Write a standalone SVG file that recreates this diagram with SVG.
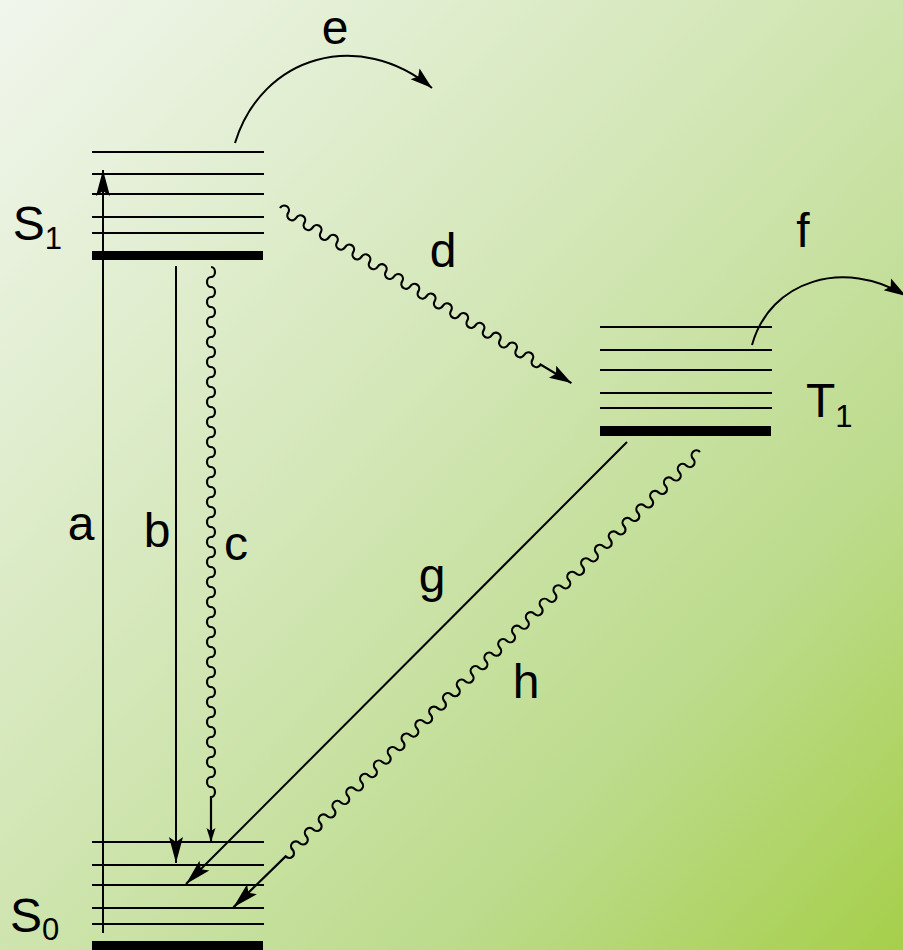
<svg xmlns="http://www.w3.org/2000/svg" width="903" height="950" viewBox="0 0 903 950">
<defs>
<linearGradient id="bg" x1="0" y1="0" x2="1" y2="1">
<stop offset="0" stop-color="#f1f6ed"/>
<stop offset="0.45" stop-color="#d2e6b5"/>
<stop offset="0.75" stop-color="#bcdb8b"/>
<stop offset="1" stop-color="#a6cf4a"/>
</linearGradient>
<marker id="ah" viewBox="-28 -8 30 16" markerWidth="30" markerHeight="16" refX="0" refY="0" orient="auto" markerUnits="userSpaceOnUse"><path d="M0,0 L-26,-7 L-21,0 L-26,7 Z" fill="#000"/></marker>
<marker id="ahm" viewBox="-24 -8 26 16" markerWidth="26" markerHeight="16" refX="0" refY="0" orient="auto" markerUnits="userSpaceOnUse"><path d="M0,0 L-22,-7 L-18,0 L-22,7 Z" fill="#000"/></marker>
<marker id="ahs" viewBox="-16 -6 18 12" markerWidth="18" markerHeight="12" refX="0" refY="0" orient="auto" markerUnits="userSpaceOnUse"><path d="M0,0 L-14,-4.5 L-11,0 L-14,4.5 Z" fill="#000"/></marker>
</defs>
<style>
.lv{stroke:#000;stroke-width:2;fill:none}
.gb{fill:#000}
.cn{stroke:#000;stroke-width:2;fill:none}
.wv{stroke:#000;stroke-width:2.2;fill:none}
.t{font-family:"Liberation Sans",Arial,sans-serif;font-size:48px;fill:#000}
.s{font-size:31px}
.m{text-anchor:middle}
</style>
<rect x="0" y="0" width="903" height="950" fill="url(#bg)"/>

<g id="S1">
<path class="lv" d="M92,152H264M92,174H264M92,194H264M92,217H264M92,233H264"/>
<rect class="gb" x="92" y="251" width="171" height="9"/>
<text class="t" x="12.8" y="240">S<tspan class="s" dy="9">1</tspan></text>
</g>

<g id="S0">
<path class="lv" d="M92,842H264M92,865H264M92,885H264M92,908H264M92,924H264"/>
<rect class="gb" x="92" y="941" width="171" height="9"/>
<text class="t" x="10" y="932">S<tspan class="s" dy="8">0</tspan></text>
</g>

<g id="T1">
<path class="lv" d="M600,327H772M600,350H772M600,370H772M600,393H772M600,408H772"/>
<rect class="gb" x="600" y="426" width="171" height="10"/>
<text class="t" x="806" y="417">T<tspan class="s" dy="10">1</tspan></text>
</g>

<g id="connectors">
<path id="a" class="cn" d="M103,933V170" marker-end="url(#ah)"/>
<path id="b" class="cn" d="M176,266V863" marker-end="url(#ah)"/>
<path id="c" class="wv" transform="translate(211,267) rotate(90)" marker-end="url(#ahs)" d="M0,0a5,4 0 0 1 10,0a5,4 0 0 0 10,0a5,4 0 0 1 10,0a5,4 0 0 0 10,0a5,4 0 0 1 10,0a5,4 0 0 0 10,0a5,4 0 0 1 10,0a5,4 0 0 0 10,0a5,4 0 0 1 10,0a5,4 0 0 0 10,0a5,4 0 0 1 10,0a5,4 0 0 0 10,0a5,4 0 0 1 10,0a5,4 0 0 0 10,0a5,4 0 0 1 10,0a5,4 0 0 0 10,0a5,4 0 0 1 10,0a5,4 0 0 0 10,0a5,4 0 0 1 10,0a5,4 0 0 0 10,0a5,4 0 0 1 10,0a5,4 0 0 0 10,0a5,4 0 0 1 10,0a5,4 0 0 0 10,0a5,4 0 0 1 10,0a5,4 0 0 0 10,0a5,4 0 0 1 10,0a5,4 0 0 0 10,0a5,4 0 0 1 10,0a5,4 0 0 0 10,0a5,4 0 0 1 10,0a5,4 0 0 0 10,0a5,4 0 0 1 10,0a5,4 0 0 0 10,0a5,4 0 0 1 10,0a5,4 0 0 0 10,0a5,4 0 0 1 10,0a5,4 0 0 0 10,0a5,4 0 0 1 10,0a5,4 0 0 0 10,0a5,4 0 0 1 10,0a5,4 0 0 0 10,0a5,4 0 0 1 10,0a5,4 0 0 0 10,0a5,4 0 0 1 10,0a5,4 0 0 0 10,0a5,4 0 0 1 10,0a5,4 0 0 0 10,0a5,4 0 0 1 10,0a5,4 0 0 0 10,0a5,4 0 0 1 10,0a5,4 0 0 0 10,0a5,4 0 0 1 10,0L575,0"/>
<path id="d" class="wv" transform="translate(280,208) rotate(31)" marker-end="url(#ahm)" d="M0,0a4.75,5 0 0 1 9.5,0a4.75,5 0 0 0 9.5,0a4.75,5 0 0 1 9.5,0a4.75,5 0 0 0 9.5,0a4.75,5 0 0 1 9.5,0a4.75,5 0 0 0 9.5,0a4.75,5 0 0 1 9.5,0a4.75,5 0 0 0 9.5,0a4.75,5 0 0 1 9.5,0a4.75,5 0 0 0 9.5,0a4.75,5 0 0 1 9.5,0a4.75,5 0 0 0 9.5,0a4.75,5 0 0 1 9.5,0a4.75,5 0 0 0 9.5,0a4.75,5 0 0 1 9.5,0a4.75,5 0 0 0 9.5,0a4.75,5 0 0 1 9.5,0a4.75,5 0 0 0 9.5,0a4.75,5 0 0 1 9.5,0a4.75,5 0 0 0 9.5,0a4.75,5 0 0 1 9.5,0a4.75,5 0 0 0 9.5,0a4.75,5 0 0 1 9.5,0a4.75,5 0 0 0 9.5,0a4.75,5 0 0 1 9.5,0a4.75,5 0 0 0 9.5,0a4.75,5 0 0 1 9.5,0a4.75,5 0 0 0 9.5,0a4.75,5 0 0 1 9.5,0a4.75,5 0 0 0 9.5,0a4.75,5 0 0 1 9.5,0a4.75,5 0 0 0 9.5,0L340,0"/>
<path id="e" class="cn" d="M235,143C262,55 360,28 432,88" marker-end="url(#ahm)"/>
<path id="f" class="cn" d="M752,345C770,280 845,258 906,296" marker-end="url(#ahm)"/>
<path id="g" class="cn" d="M627,442L186,884" marker-end="url(#ah)"/>
<path id="h" class="wv" transform="translate(700,452) rotate(135.7)" marker-end="url(#ah)" d="M0,0a4.825,5 0 0 0 9.65,0a4.825,5 0 0 1 9.65,0a4.825,5 0 0 0 9.65,0a4.825,5 0 0 1 9.65,0a4.825,5 0 0 0 9.65,0a4.825,5 0 0 1 9.65,0a4.825,5 0 0 0 9.65,0a4.825,5 0 0 1 9.65,0a4.825,5 0 0 0 9.65,0a4.825,5 0 0 1 9.65,0a4.825,5 0 0 0 9.65,0a4.825,5 0 0 1 9.65,0a4.825,5 0 0 0 9.65,0a4.825,5 0 0 1 9.65,0a4.825,5 0 0 0 9.65,0a4.825,5 0 0 1 9.65,0a4.825,5 0 0 0 9.65,0a4.825,5 0 0 1 9.65,0a4.825,5 0 0 0 9.65,0a4.825,5 0 0 1 9.65,0a4.825,5 0 0 0 9.65,0a4.825,5 0 0 1 9.65,0a4.825,5 0 0 0 9.65,0a4.825,5 0 0 1 9.65,0a4.825,5 0 0 0 9.65,0a4.825,5 0 0 1 9.65,0a4.825,5 0 0 0 9.65,0a4.825,5 0 0 1 9.65,0a4.825,5 0 0 0 9.65,0a4.825,5 0 0 1 9.65,0a4.825,5 0 0 0 9.65,0a4.825,5 0 0 1 9.65,0a4.825,5 0 0 0 9.65,0a4.825,5 0 0 1 9.65,0a4.825,5 0 0 0 9.65,0a4.825,5 0 0 1 9.65,0a4.825,5 0 0 0 9.65,0a4.825,5 0 0 1 9.65,0a4.825,5 0 0 0 9.65,0a4.825,5 0 0 1 9.65,0a4.825,5 0 0 0 9.65,0a4.825,5 0 0 1 9.65,0a4.825,5 0 0 0 9.65,0a4.825,5 0 0 1 9.65,0a4.825,5 0 0 0 9.65,0a4.825,5 0 0 1 9.65,0a4.825,5 0 0 0 9.65,0a4.825,5 0 0 1 9.65,0a4.825,5 0 0 0 9.65,0a4.825,5 0 0 1 9.65,0a4.825,5 0 0 0 9.65,0a4.825,5 0 0 1 9.65,0a4.825,5 0 0 0 9.65,0a4.825,5 0 0 1 9.65,0a4.825,5 0 0 0 9.65,0a4.825,5 0 0 1 9.65,0a4.825,5 0 0 0 9.65,0a4.825,5 0 0 1 9.65,0a4.825,5 0 0 0 9.65,0a4.825,5 0 0 1 9.65,0L652,0"/>
</g>

<g id="labels">
<text class="t m" x="81" y="540">a</text>
<text class="t m" x="157" y="547">b</text>
<text class="t m" x="236" y="560">c</text>
<text class="t m" x="443" y="267">d</text>
<text class="t m" x="335" y="44">e</text>
<text class="t m" x="803" y="247">f</text>
<text class="t m" x="432" y="592">g</text>
<text class="t m" x="526" y="698">h</text>
</g>
</svg>
